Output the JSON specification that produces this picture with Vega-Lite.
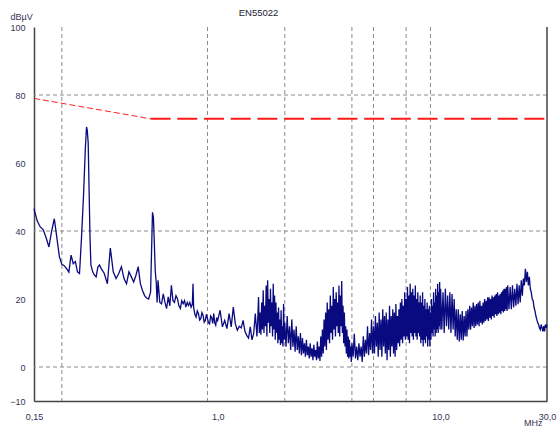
{
  "$schema": "https://vega.github.io/schema/vega-lite/v6.json",
  "width": 513,
  "height": 374,
  "autosize": "none",
  "padding": {"left": 34, "top": 27, "right": 12, "bottom": 31},
  "background": "white",
  "config": {
    "view": {"stroke": null},
    "font": "Liberation Sans",
    "axis": {"grid": false, "ticks": false, "labelFontSize": 9, "labelColor": "#333355", "labelFont": "Liberation Sans", "domainColor": "#444444", "domainWidth": 1.5, "titleFontSize": 9, "titleFontWeight": "normal", "titleColor": "#333355", "titleFont": "Liberation Sans"},
    "axisX": {"labelFlush": false, "labelPadding": 11, "titleAnchor": "end", "titleAlign": "right", "titleBaseline": "middle", "titleX": 508, "titleY": 21},
    "axisY": {"labelPadding": 9, "titleAngle": 0, "titleAlign": "left", "titleBaseline": "middle", "titleX": -24, "titleY": -11}
  },
  "title": {"text": "EN55022", "fontSize": 9.5, "fontWeight": "normal", "color": "#222233", "anchor": "middle", "dx": -32, "offset": -5.5, "font": "Liberation Sans"},
  "datasets": {
    "hgrid": [{"dB": 0}, {"dB": 40}, {"dB": 80}],
    "vgrid": [{"f": 0.2}, {"f": 0.9}, {"f": 2}, {"f": 4}, {"f": 5}, {"f": 7}, {"f": 9}],
    "rborder": [{"f": 30}],
    "limit1": [{"f": 0.15, "dB": 79}, {"f": 0.5, "dB": 73}],
    "limit2": [{"f": 0.5, "dB": 73}, {"f": 30, "dB": 73}],
    "spec": [
      {"f":0.15,"dB":46.6},{"f":0.155,"dB":43},{"f":0.16,"dB":41.2},{"f":0.165,"dB":40.4},{"f":0.17,"dB":38},{"f":0.175,"dB":35.3},{"f":0.18,"dB":40},{"f":0.185,"dB":43.6},{"f":0.19,"dB":38},{"f":0.195,"dB":32.4},
      {"f":0.2,"dB":30.2},{"f":0.205,"dB":29.8},{"f":0.21,"dB":28.9},{"f":0.215,"dB":27.9},{"f":0.22,"dB":32.9},{"f":0.225,"dB":30.4},{"f":0.23,"dB":31},{"f":0.235,"dB":28},{"f":0.24,"dB":27.5},{"f":0.245,"dB":38},
      {"f":0.25,"dB":50},{"f":0.255,"dB":64.5},{"f":0.258,"dB":70.6},{"f":0.26,"dB":69.6},{"f":0.2625,"dB":66},{"f":0.265,"dB":52},{"f":0.2675,"dB":38},{"f":0.27,"dB":30},{"f":0.275,"dB":28},{"f":0.28,"dB":27},
      {"f":0.285,"dB":26.5},{"f":0.29,"dB":29.4},{"f":0.295,"dB":30},{"f":0.3,"dB":29},{"f":0.31,"dB":27.5},{"f":0.32,"dB":24.5},{"f":0.33,"dB":35},{"f":0.34,"dB":28},{"f":0.35,"dB":26},{"f":0.36,"dB":27.5},
      {"f":0.37,"dB":29.5},{"f":0.38,"dB":26},{"f":0.39,"dB":24.5},{"f":0.4,"dB":28},{"f":0.41,"dB":26.5},{"f":0.42,"dB":25},{"f":0.43,"dB":27},{"f":0.44,"dB":29.5},{"f":0.45,"dB":24.5},{"f":0.46,"dB":22.5},
      {"f":0.47,"dB":21},{"f":0.48,"dB":20.3},{"f":0.49,"dB":20},{"f":0.5,"dB":22},{"f":0.51,"dB":45.5},{"f":0.515,"dB":44},{"f":0.52,"dB":36},{"f":0.525,"dB":28},{"f":0.53,"dB":25},{"f":0.535,"dB":19},
      {"f":0.54,"dB":25.5},{"f":0.55,"dB":19},{"f":0.56,"dB":18.6},{"f":0.57,"dB":21.5},{"f":0.58,"dB":19},{"f":0.59,"dB":17.2},{"f":0.6,"dB":20.6},
      {"f":0.61,"dB":18},{"f":0.62,"dB":24},{"f":0.63,"dB":19.5},{"f":0.64,"dB":19},{"f":0.65,"dB":21},{"f":0.66,"dB":20.1},{"f":0.67,"dB":18},{"f":0.68,"dB":17.2},{"f":0.69,"dB":19.5},{"f":0.7,"dB":18.6},
      {"f":0.71,"dB":19.5},{"f":0.72,"dB":17.6},{"f":0.73,"dB":19},{"f":0.74,"dB":18.1},{"f":0.75,"dB":19},{"f":0.76,"dB":17.6},{"f":0.77,"dB":18.5},{"f":0.775,"dB":24.5},{"f":0.78,"dB":17.6},{"f":0.79,"dB":15.5},
      {"f":0.8,"dB":14.7},{"f":0.81,"dB":16.5},{"f":0.82,"dB":15.7},{"f":0.83,"dB":13.8},{"f":0.84,"dB":14.2},{"f":0.85,"dB":16},{"f":0.86,"dB":15.2},{"f":0.87,"dB":13.2},{"f":0.88,"dB":13.7},{"f":0.89,"dB":15.5},
      {"f":0.9,"dB":14.2},{"f":0.91,"dB":13},{"f":0.92,"dB":12.7},{"f":0.93,"dB":15},{"f":0.94,"dB":14.5},{"f":0.95,"dB":12.8},{"f":0.96,"dB":15.7},{"f":0.97,"dB":13},{"f":0.98,"dB":12.3},{"f":0.99,"dB":14.5},{"f":1.0,"dB":13.7},
      {"f":1.025,"dB":16.7},{"f":1.05,"dB":11.8},{"f":1.075,"dB":13.7},{"f":1.1,"dB":11.3},{"f":1.125,"dB":15.7},{"f":1.15,"dB":11.8},{"f":1.175,"dB":17.6},{"f":1.2,"dB":12.7},{"f":1.225,"dB":10.8},{"f":1.25,"dB":12},
      {"f":1.275,"dB":11.5},{"f":1.3,"dB":13.7},{"f":1.325,"dB":10.5},{"f":1.35,"dB":9.3},{"f":1.375,"dB":8.5},{"f":1.4,"dB":11.8},{"f":1.425,"dB":8},{"f":1.45,"dB":9.8},{"f":1.475,"dB":15.7},{"f":1.5,"dB":9},
      {"f":1.5125,"dB":14},{"f":1.525,"dB":20.6},{"f":1.5375,"dB":10},{"f":1.55,"dB":16},{"f":1.5625,"dB":9.5},{"f":1.575,"dB":19},{"f":1.5875,"dB":11},{"f":1.6,"dB":22.6},{"f":1.6125,"dB":10},{"f":1.625,"dB":18},
      {"f":1.6375,"dB":12},{"f":1.65,"dB":24},{"f":1.6625,"dB":9},{"f":1.675,"dB":25.5},{"f":1.6875,"dB":13},{"f":1.7,"dB":20},{"f":1.7125,"dB":10},{"f":1.725,"dB":23},{"f":1.7375,"dB":12},{"f":1.75,"dB":19},
      {"f":1.7625,"dB":9},{"f":1.775,"dB":24.5},{"f":1.7875,"dB":11},{"f":1.8,"dB":21},{"f":1.8125,"dB":8},{"f":1.825,"dB":19},{"f":1.8375,"dB":10},{"f":1.85,"dB":16},{"f":1.8625,"dB":7},{"f":1.875,"dB":17.5},
      {"f":1.8875,"dB":8},{"f":1.9,"dB":14},{"f":1.9125,"dB":6.5},{"f":1.925,"dB":16.7},{"f":1.9375,"dB":7},{"f":1.95,"dB":12},{"f":1.9625,"dB":6},{"f":1.975,"dB":18.5},{"f":1.9875,"dB":8},{"f":2.0,"dB":13},
      {"f":2.025,"dB":6},{"f":2.05,"dB":15},{"f":2.075,"dB":7},{"f":2.1,"dB":12},{"f":2.125,"dB":5},{"f":2.15,"dB":14},{"f":2.175,"dB":6},{"f":2.2,"dB":11},{"f":2.225,"dB":4.5},{"f":2.25,"dB":12},
      {"f":2.275,"dB":5},{"f":2.3,"dB":9},{"f":2.325,"dB":4},{"f":2.35,"dB":10},{"f":2.375,"dB":3.5},{"f":2.4,"dB":8.5},{"f":2.425,"dB":4},{"f":2.45,"dB":7},{"f":2.475,"dB":3},{"f":2.5,"dB":8},
      {"f":2.525,"dB":3.5},{"f":2.55,"dB":6},{"f":2.575,"dB":2.5},{"f":2.6,"dB":7},{"f":2.625,"dB":3},{"f":2.65,"dB":5.5},{"f":2.675,"dB":2},{"f":2.7,"dB":6.5},{"f":2.725,"dB":3},{"f":2.75,"dB":5},
      {"f":2.775,"dB":2},{"f":2.8,"dB":7.5},{"f":2.825,"dB":2.5},{"f":2.85,"dB":6},{"f":2.875,"dB":1.8},{"f":2.9,"dB":9},{"f":2.925,"dB":3},{"f":2.95,"dB":11},{"f":2.975,"dB":4},{"f":3.0,"dB":14},
      {"f":3.025,"dB":6},{"f":3.05,"dB":16},{"f":3.075,"dB":5},{"f":3.1,"dB":19},{"f":3.125,"dB":8},{"f":3.15,"dB":17},{"f":3.175,"dB":7},{"f":3.2,"dB":21},{"f":3.225,"dB":10},{"f":3.25,"dB":18},
      {"f":3.275,"dB":8},{"f":3.3,"dB":23.5},{"f":3.325,"dB":11},{"f":3.35,"dB":20},{"f":3.375,"dB":9},{"f":3.4,"dB":22},{"f":3.425,"dB":12},{"f":3.45,"dB":19},{"f":3.475,"dB":10},{"f":3.5,"dB":24},
      {"f":3.525,"dB":9},{"f":3.55,"dB":21},{"f":3.575,"dB":12},{"f":3.6,"dB":25.3},{"f":3.625,"dB":10},{"f":3.65,"dB":18},{"f":3.675,"dB":7},{"f":3.7,"dB":16},{"f":3.725,"dB":6},{"f":3.75,"dB":12},
      {"f":3.775,"dB":4},{"f":3.8,"dB":11},{"f":3.825,"dB":3},{"f":3.85,"dB":9},{"f":3.875,"dB":2.5},{"f":3.9,"dB":8},{"f":3.925,"dB":3},{"f":3.95,"dB":6},{"f":3.975,"dB":1.5},{"f":4.0,"dB":7},
      {"f":4.05,"dB":3},{"f":4.1,"dB":9.8},{"f":4.15,"dB":2.5},{"f":4.2,"dB":6},{"f":4.25,"dB":2},{"f":4.3,"dB":7},{"f":4.35,"dB":3},{"f":4.4,"dB":6},{"f":4.45,"dB":1.5},{"f":4.5,"dB":9},
      {"f":4.55,"dB":3},{"f":4.6,"dB":8},{"f":4.65,"dB":4},{"f":4.7,"dB":12},{"f":4.75,"dB":3.5},{"f":4.8,"dB":10},{"f":4.85,"dB":5},{"f":4.9,"dB":14},{"f":4.95,"dB":4},{"f":5.0,"dB":12},
      {"f":5.05,"dB":4},{"f":5.1,"dB":15},{"f":5.15,"dB":6},{"f":5.2,"dB":13},{"f":5.25,"dB":3},{"f":5.3,"dB":16},{"f":5.35,"dB":5},{"f":5.4,"dB":14},{"f":5.45,"dB":3},{"f":5.5,"dB":17},
      {"f":5.55,"dB":6},{"f":5.6,"dB":15},{"f":5.65,"dB":4},{"f":5.7,"dB":16},{"f":5.75,"dB":2},{"f":5.8,"dB":14},{"f":5.85,"dB":5},{"f":5.9,"dB":18},{"f":5.95,"dB":3},{"f":6.0,"dB":15},
      {"f":6.05,"dB":6},{"f":6.1,"dB":17},{"f":6.15,"dB":4},{"f":6.2,"dB":16},{"f":6.25,"dB":3},{"f":6.3,"dB":18.5},{"f":6.35,"dB":5},{"f":6.4,"dB":15},{"f":6.45,"dB":7},{"f":6.5,"dB":17},
      {"f":6.55,"dB":6},{"f":6.6,"dB":19},{"f":6.65,"dB":8},{"f":6.7,"dB":20},{"f":6.75,"dB":7},{"f":6.8,"dB":18},{"f":6.85,"dB":9},{"f":6.9,"dB":22},{"f":6.95,"dB":8},{"f":7.0,"dB":20},
      {"f":7.05,"dB":9},{"f":7.1,"dB":23.5},{"f":7.15,"dB":8},{"f":7.2,"dB":21},{"f":7.25,"dB":7},{"f":7.3,"dB":24.5},{"f":7.35,"dB":10},{"f":7.4,"dB":22},{"f":7.45,"dB":9},{"f":7.5,"dB":23},
      {"f":7.55,"dB":8},{"f":7.6,"dB":21},{"f":7.65,"dB":10},{"f":7.7,"dB":24},{"f":7.75,"dB":9},{"f":7.8,"dB":20},{"f":7.85,"dB":8},{"f":7.9,"dB":22},{"f":7.95,"dB":10},{"f":8.0,"dB":19},
      {"f":8.05,"dB":9},{"f":8.1,"dB":21},{"f":8.15,"dB":7},{"f":8.2,"dB":19},{"f":8.25,"dB":8},{"f":8.3,"dB":22},{"f":8.35,"dB":6},{"f":8.4,"dB":18},{"f":8.45,"dB":8},{"f":8.5,"dB":20},
      {"f":8.55,"dB":7},{"f":8.6,"dB":17},{"f":8.65,"dB":9},{"f":8.7,"dB":19},{"f":8.75,"dB":6},{"f":8.8,"dB":17},{"f":8.85,"dB":8},{"f":8.9,"dB":18},{"f":8.95,"dB":6},{"f":9.0,"dB":16},
      {"f":9.05,"dB":8},{"f":9.1,"dB":20},{"f":9.15,"dB":10},{"f":9.2,"dB":18},{"f":9.25,"dB":9},{"f":9.3,"dB":22},{"f":9.35,"dB":11},{"f":9.4,"dB":19},{"f":9.45,"dB":9},{"f":9.5,"dB":23},
      {"f":9.55,"dB":10},{"f":9.6,"dB":21},{"f":9.65,"dB":11},{"f":9.7,"dB":24.5},{"f":9.75,"dB":10},{"f":9.8,"dB":22},{"f":9.85,"dB":12},{"f":9.9,"dB":25},{"f":9.95,"dB":11},{"f":10.0,"dB":23},
      {"f":10.125,"dB":11},{"f":10.25,"dB":22},{"f":10.375,"dB":10},{"f":10.5,"dB":23},{"f":10.625,"dB":12},{"f":10.75,"dB":21},{"f":10.875,"dB":11},{"f":11.0,"dB":22},{"f":11.125,"dB":10},{"f":11.25,"dB":21.5},
      {"f":11.375,"dB":11},{"f":11.5,"dB":20},{"f":11.625,"dB":9},{"f":11.75,"dB":17},{"f":11.875,"dB":8},{"f":12.0,"dB":17},{"f":12.125,"dB":7.5},{"f":12.25,"dB":15.5},{"f":12.375,"dB":8},{"f":12.5,"dB":16.5},
      {"f":12.625,"dB":7.8},{"f":12.75,"dB":15},{"f":12.875,"dB":9},{"f":13.0,"dB":16.5},{"f":13.125,"dB":9},{"f":13.25,"dB":17},{"f":13.375,"dB":11},{"f":13.5,"dB":18},{"f":13.625,"dB":11},{"f":13.75,"dB":17.5},
      {"f":13.875,"dB":12},{"f":14.0,"dB":19},{"f":14.125,"dB":11.5},{"f":14.25,"dB":18},{"f":14.375,"dB":12},{"f":14.5,"dB":18.5},{"f":14.625,"dB":12.5},{"f":14.75,"dB":19},{"f":14.875,"dB":12},{"f":15.0,"dB":19.5},
      {"f":15.125,"dB":13},{"f":15.25,"dB":18},{"f":15.375,"dB":12.5},{"f":15.5,"dB":19},{"f":15.625,"dB":13},{"f":15.75,"dB":20},{"f":15.875,"dB":13.5},{"f":16.0,"dB":19.5},{"f":16.125,"dB":14},{"f":16.25,"dB":20.5},
      {"f":16.375,"dB":13.5},{"f":16.5,"dB":20.5},{"f":16.625,"dB":14.5},{"f":16.75,"dB":20},{"f":16.875,"dB":14},{"f":17.0,"dB":21},{"f":17.125,"dB":15},{"f":17.25,"dB":20.5},{"f":17.375,"dB":14.5},{"f":17.5,"dB":21},
      {"f":17.625,"dB":15.5},{"f":17.75,"dB":21.5},{"f":17.875,"dB":15},{"f":18.0,"dB":22},{"f":18.125,"dB":15.5},{"f":18.25,"dB":21},{"f":18.375,"dB":16},{"f":18.5,"dB":21.5},{"f":18.625,"dB":15.5},{"f":18.75,"dB":22},
      {"f":18.875,"dB":16.5},{"f":19.0,"dB":22.5},{"f":19.125,"dB":16},{"f":19.25,"dB":23},{"f":19.375,"dB":16.5},{"f":19.5,"dB":23},{"f":19.625,"dB":17},{"f":19.75,"dB":23.5},{"f":19.875,"dB":16.5},{"f":20.0,"dB":24},
      {"f":20.25,"dB":17},{"f":20.5,"dB":23.5},{"f":20.75,"dB":17},{"f":21.0,"dB":24},{"f":21.25,"dB":17.5},{"f":21.5,"dB":23},{"f":21.75,"dB":18},{"f":22.0,"dB":24.5},{"f":22.25,"dB":18.5},{"f":22.5,"dB":24},
      {"f":22.75,"dB":19},{"f":23.0,"dB":25.5},{"f":23.25,"dB":21},{"f":23.5,"dB":26},{"f":23.75,"dB":24},{"f":24.0,"dB":28.9},{"f":24.25,"dB":25},{"f":24.5,"dB":28},{"f":24.75,"dB":24},{"f":25.0,"dB":26.5},
      {"f":25.25,"dB":23},{"f":25.5,"dB":22},{"f":25.75,"dB":20},{"f":26.0,"dB":19.5},{"f":26.25,"dB":17.5},{"f":26.5,"dB":16.5},{"f":26.75,"dB":15},{"f":27.0,"dB":14},{"f":27.25,"dB":13},{"f":27.5,"dB":12.5},
      {"f":27.75,"dB":11.5},{"f":28.0,"dB":11},{"f":28.25,"dB":12.5},{"f":28.5,"dB":11.5},{"f":28.75,"dB":10.5},{"f":29.0,"dB":12},{"f":29.25,"dB":10.5},{"f":29.5,"dB":12.5},{"f":29.75,"dB":11.5},{"f":30.0,"dB":12.5}
    ]
  },
  "layer": [
    {
      "data": {"name": "hgrid"},
      "mark": {"type": "rule", "color": "#8a8a8a", "strokeWidth": 1, "strokeDash": [4, 3]},
      "encoding": {
        "y": {"field": "dB", "type": "quantitative", "scale": {"domain": [-10, 100], "nice": false, "zero": false}, "axis": {"values": [-10, 0, 20, 40, 60, 80, 100], "title": "dBµV"}}
      }
    },
    {
      "data": {"name": "vgrid"},
      "mark": {"type": "rule", "color": "#8a8a8a", "strokeWidth": 1, "strokeDash": [4, 3]},
      "encoding": {
        "x": {"field": "f", "type": "quantitative", "scale": {"type": "log", "domain": [0.15, 30], "nice": false}, "axis": {"values": [0.15, 1, 10, 30], "labelExpr": "datum.value < 0.5 ? '0,15' : replace(format(datum.value, '.1f'), '.', ',')", "title": "MHz"}}
      }
    },
    {
      "data": {"name": "rborder"},
      "mark": {"type": "rule", "color": "#444444", "strokeWidth": 1.5},
      "encoding": {
        "x": {"field": "f", "type": "quantitative", "scale": {"type": "log", "domain": [0.15, 30], "nice": false}, "axis": {"values": [0.15, 1, 10, 30], "labelExpr": "datum.value < 0.5 ? '0,15' : replace(format(datum.value, '.1f'), '.', ',')", "title": "MHz"}}
      }
    },
    {
      "data": {"name": "limit1"},
      "mark": {"type": "line", "color": "#ff2020", "strokeWidth": 1, "strokeDash": [6, 3]},
      "encoding": {
        "x": {"field": "f", "type": "quantitative", "scale": {"type": "log", "domain": [0.15, 30], "nice": false}, "axis": {"values": [0.15, 1, 10, 30], "labelExpr": "datum.value < 0.5 ? '0,15' : replace(format(datum.value, '.1f'), '.', ',')", "title": "MHz"}},
        "y": {"field": "dB", "type": "quantitative", "scale": {"domain": [-10, 100], "nice": false, "zero": false}, "axis": {"values": [-10, 0, 20, 40, 60, 80, 100], "title": "dBµV"}}
      }
    },
    {
      "data": {"name": "limit2"},
      "mark": {"type": "line", "color": "#ff1a1a", "strokeWidth": 2, "strokeDash": [20, 6.7]},
      "encoding": {
        "x": {"field": "f", "type": "quantitative", "scale": {"type": "log", "domain": [0.15, 30], "nice": false}, "axis": {"values": [0.15, 1, 10, 30], "labelExpr": "datum.value < 0.5 ? '0,15' : replace(format(datum.value, '.1f'), '.', ',')", "title": "MHz"}},
        "y": {"field": "dB", "type": "quantitative", "scale": {"domain": [-10, 100], "nice": false, "zero": false}, "axis": {"values": [-10, 0, 20, 40, 60, 80, 100], "title": "dBµV"}}
      }
    },
    {
      "data": {"name": "spec"},
      "mark": {"type": "line", "color": "#0a0a80", "strokeWidth": 1.3},
      "encoding": {
        "x": {"field": "f", "type": "quantitative", "scale": {"type": "log", "domain": [0.15, 30], "nice": false}, "axis": {"values": [0.15, 1, 10, 30], "labelExpr": "datum.value < 0.5 ? '0,15' : replace(format(datum.value, '.1f'), '.', ',')", "title": "MHz"}},
        "y": {"field": "dB", "type": "quantitative", "scale": {"domain": [-10, 100], "nice": false, "zero": false}, "axis": {"values": [-10, 0, 20, 40, 60, 80, 100], "title": "dBµV"}}
      }
    }
  ]
}
